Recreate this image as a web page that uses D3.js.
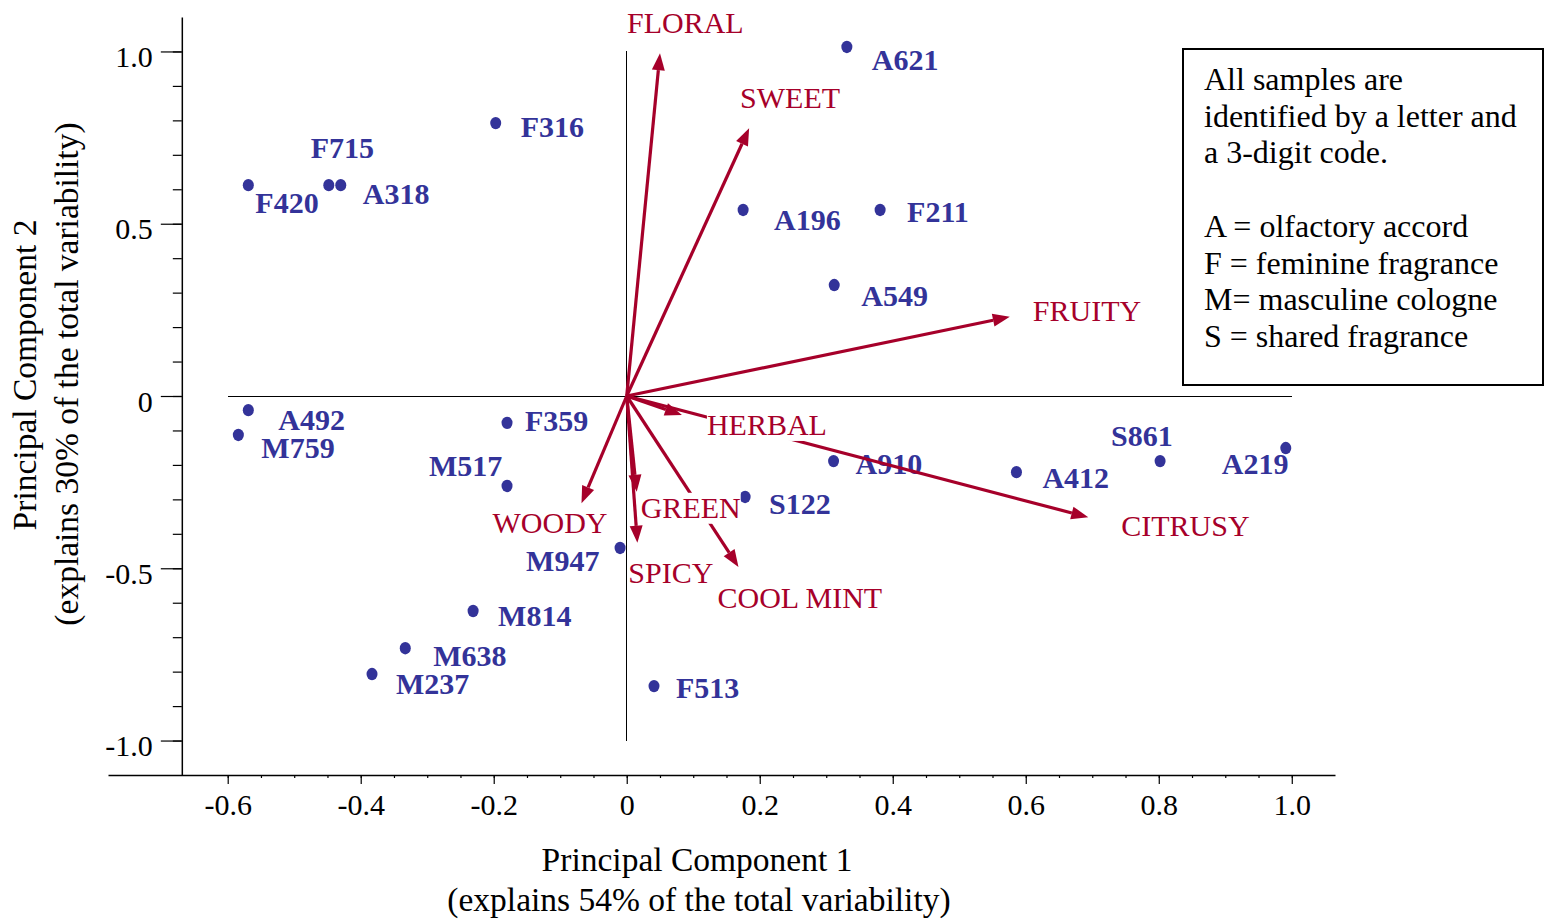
<!DOCTYPE html>
<html>
<head>
<meta charset="utf-8">
<script src="https://cdn.jsdelivr.net/npm/d3@7"></script>
<style>
  body { margin: 0; background: #fff; }
  svg { display: block; font-family: "Liberation Serif", "Times New Roman", serif; }
</style>
</head>
<body>
<svg id="chart"></svg>
<script>
// sample scores (PC1, PC2)
const samples = ["A621","F316","F715","A318","F420","A196","F211","A549","A492","M759","F359",
  "M517","A910","A412","S861","A219","S122","M947","M814","M638","M237","F513"];
const pc1 = [0.331,-0.197,-0.448,-0.430,-0.569,0.175,0.381,0.312,-0.569,-0.584,-0.180,
  -0.180,0.311,0.586,0.802,0.991,0.178,-0.010,-0.231,-0.333,-0.383,0.041];
const pc2 = [1.013,0.792,0.612,0.612,0.612,0.540,0.540,0.322,-0.041,-0.113,-0.078,
  -0.261,-0.189,-0.221,-0.189,-0.151,-0.293,-0.441,-0.624,-0.732,-0.807,-0.842];

// attribute loadings
const attributes = ["FLORAL","SWEET","FRUITY","HERBAL","CITRUSY","WOODY","GREEN","SPICY","COOL MINT"];
const load1 = [0.050,0.184,0.576,0.083,0.694,-0.068,0.015,0.016,0.168];
const load2 = [0.995,0.777,0.230,-0.055,-0.352,-0.311,-0.278,-0.426,-0.496];

const xTicks = [-0.6,-0.4,-0.2,0,0.2,0.4,0.6,0.8,1.0];
const yTicks = [-1.0,-0.5,0,0.5,1.0];

const legendLines = ["All samples are","identified by a letter and","a 3-digit code.","",
  "A = olfactory accord","F = feminine fragrance","M= masculine cologne","S = shared fragrance"];

// label placement (pixels, relative to point / arrow tip)
const sampleLabelPos = {
  A621:[25,23], F316:[25,14], F715:[-18,-27], A318:[22,19], F420:[7,28], A196:[31,20],
  F211:[27,12], A549:[27,21], A492:[30,20], M759:[23,23], F359:[18,8], M517:[-78,-10],
  A910:[22,13], A412:[26,16], S861:[-49,-15], A219:[-64,26], S122:[24,17], M947:[-94,23],
  M814:[25,15], M638:[28,18], M237:[24,20], F513:[22,12]
};
const attrLabelPos = {
  "FLORAL":[-33,-20], "SWEET":[-9,-20], "FRUITY":[23,4], "HERBAL":[25,20], "CITRUSY":[33,19],
  "WOODY":[-89,30], "GREEN":[4,26], "SPICY":[-9,40], "COOL MINT":[-21,41]
};

const W = 1546, H = 921;
const blue = "#333399", red = "#a6002a";
const serif = "Liberation Serif, Times New Roman, serif";

const svg = d3.select("#chart").attr("width", W).attr("height", H);

const x = d3.scaleLinear().domain([-0.78, 1.065]).range([108, 1335]);
const y = d3.scaleLinear().domain([-1.1, 1.1]).range([775, 17]);
const fmt = d => d === 0 ? "0" : d.toFixed(1);
const yAxisAt = -0.669;

// minor ticks
const xMinor = d3.range(-0.6, 1.001, 0.05).map(v => +v.toFixed(2));
const yMinor = d3.range(-1.0, 1.001, 0.1).map(v => +v.toFixed(2));

svg.append("g")
  .attr("transform", `translate(0,${y(-1.1)})`)
  .call(d3.axisBottom(x).tickValues(xMinor).tickSize(3).tickFormat(""))
  .call(g => g.select(".domain").remove());
svg.append("g")
  .attr("transform", `translate(${x(yAxisAt)},0)`)
  .call(d3.axisLeft(y).tickValues(yMinor).tickSize(9).tickFormat(""))
  .call(g => g.select(".domain").remove());

const xAxis = svg.append("g")
  .attr("transform", `translate(0,${y(-1.1)})`)
  .call(d3.axisBottom(x).tickValues(xTicks).tickSize(9).tickSizeOuter(0).tickFormat(fmt).tickPadding(10));
const yAxis = svg.append("g")
  .attr("transform", `translate(${x(yAxisAt)},0)`)
  .call(d3.axisLeft(y).tickValues(yTicks).tickSize(21).tickSizeOuter(0).tickFormat(fmt).tickPadding(8));

[xAxis, yAxis].forEach(g => {
  g.select(".domain").attr("stroke-width", 1.5);
  g.selectAll("text").attr("font-size", 30).attr("font-family", serif).attr("fill", "#000");
});
yAxis.selectAll("text").attr("dy", "0.5em");
svg.selectAll(".tick line").attr("stroke", "#000").attr("stroke-width", 1.2);

// reference lines through origin
svg.append("line")
  .attr("x1", x(0)).attr("x2", x(0)).attr("y1", y(1)).attr("y2", y(-1))
  .attr("stroke", "#000").attr("stroke-width", 1).attr("shape-rendering", "crispEdges");
svg.append("line")
  .attr("x1", x(-0.6)).attr("x2", x(1)).attr("y1", y(0)).attr("y2", y(0))
  .attr("stroke", "#000").attr("stroke-width", 1).attr("shape-rendering", "crispEdges");

// sample points
const pts = samples.map((s, i) => ({ name: s, a: pc1[i], b: pc2[i] }));
svg.append("g").selectAll("ellipse")
  .data(pts).join("ellipse")
  .attr("cx", d => x(d.a)).attr("cy", d => y(d.b))
  .attr("rx", 5.5).attr("ry", 6.2)
  .attr("fill", blue);
svg.append("g").selectAll("text")
  .data(pts).join("text")
  .attr("x", d => x(d.a) + sampleLabelPos[d.name][0])
  .attr("y", d => y(d.b) + sampleLabelPos[d.name][1])
  .attr("font-size", 30).attr("font-weight", "bold")
  .attr("fill", blue)
  .text(d => d.name);

// loading arrows
const arr = attributes.map((s, i) => ({ name: s, a: load1[i], b: load2[i] }));
const headLen = 17, headW = 6.5;
const ag = svg.append("g");
arr.forEach(d => {
  const x0 = x(0), y0 = y(0), x1 = x(d.a), y1 = y(d.b);
  const ang = Math.atan2(y1 - y0, x1 - x0);
  const bx = x1 - headLen * Math.cos(ang), by = y1 - headLen * Math.sin(ang);
  ag.append("line")
    .attr("x1", x0).attr("y1", y0).attr("x2", bx).attr("y2", by)
    .attr("stroke", red).attr("stroke-width", 3.2);
  const px = -Math.sin(ang) * headW, py = Math.cos(ang) * headW;
  ag.append("path")
    .attr("d", `M${x1},${y1}L${bx + px},${by + py}L${bx - px},${by - py}Z`)
    .attr("fill", red);
});

// attribute labels with white background
const lg = svg.append("g");
arr.forEach(d => {
  const g = lg.append("g");
  const t = g.append("text")
    .attr("x", x(d.a) + attrLabelPos[d.name][0])
    .attr("y", y(d.b) + attrLabelPos[d.name][1])
    .attr("font-size", 30).attr("fill", red)
    .text(d.name);
  const bb = t.node().getBBox();
  g.insert("rect", "text")
    .attr("x", bb.x).attr("y", bb.y + 2).attr("width", bb.width).attr("height", bb.height - 2)
    .attr("fill", "#fff");
});

// axis titles
svg.append("text").attr("x", 697).attr("y", 871).attr("text-anchor", "middle")
  .attr("font-size", 33.5).text("Principal Component 1");
svg.append("text").attr("x", 699).attr("y", 911).attr("text-anchor", "middle")
  .attr("font-size", 33.5).text("(explains 54% of the total variability)");
svg.append("text").attr("transform", "translate(36,375) rotate(-90)").attr("text-anchor", "middle")
  .attr("font-size", 33.5).text("Principal Component 2");
svg.append("text").attr("transform", "translate(78,374) rotate(-90)").attr("text-anchor", "middle")
  .attr("font-size", 33.5).text("(explains 30% of the total variability)");

// legend box
svg.append("rect").attr("x", 1183).attr("y", 49).attr("width", 360).attr("height", 336)
  .attr("fill", "#fff").attr("stroke", "#000").attr("stroke-width", 2);
svg.append("g").selectAll("text")
  .data(legendLines).join("text")
  .attr("x", 1204).attr("y", (d, i) => 90 + i * 36.7)
  .attr("font-size", 32).attr("fill", "#000")
  .text(d => d);
</script>
</body>
</html>
